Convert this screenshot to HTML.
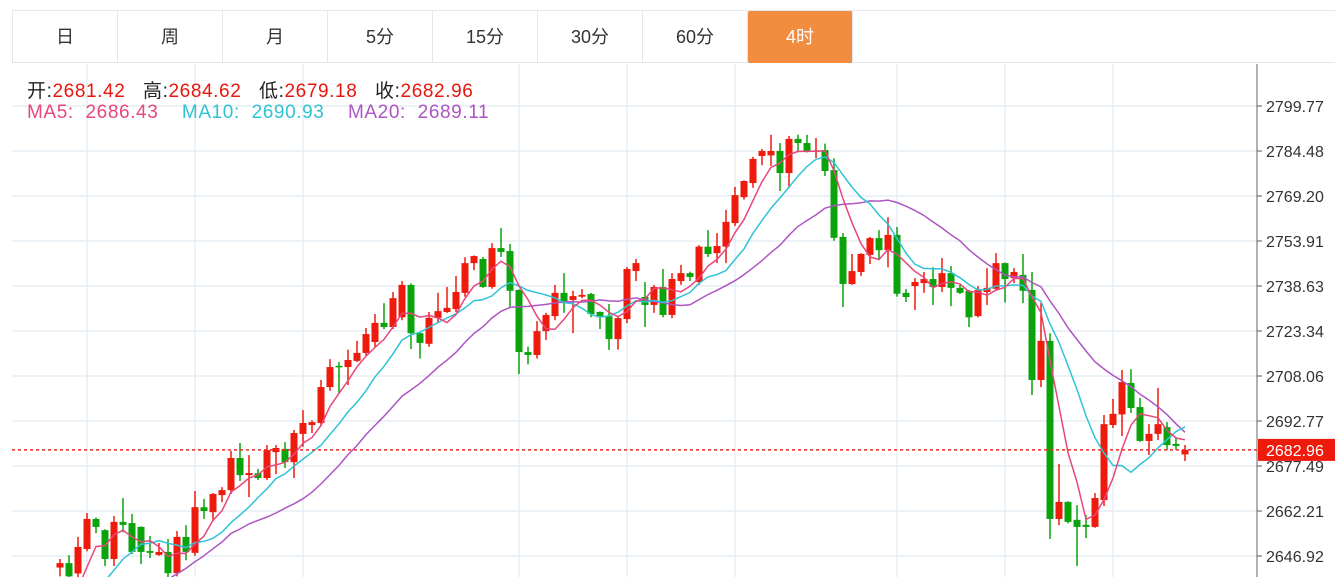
<!DOCTYPE html>
<html><head><meta charset="utf-8"><style>
html,body{margin:0;padding:0;width:1335px;height:577px;overflow:hidden;background:#fff;font-family:"Liberation Sans","Noto Sans CJK SC",sans-serif;}
#wrap{position:relative;width:1335px;height:577px;overflow:hidden;}
.tabs{position:absolute;left:12px;top:10px;height:53px;width:1323px;border-top:1px solid #e3e6ea;border-bottom:1px solid #e3e6ea;border-left:1px solid #e3e6ea;box-sizing:border-box;}
.tab{position:absolute;top:0;height:52px;width:105px;border-right:1px solid #e3e6ea;box-sizing:border-box;text-align:center;line-height:52px;font-size:18px;color:#333;}
.tab.active{background:#f28c3e;color:#fff;border-radius:2px;}
.leg{position:absolute;left:27px;font-size:19px;letter-spacing:0.6px;white-space:nowrap;}
</style></head><body>
<div id="wrap">
<svg id="chart" width="1335" height="577" style="position:absolute;left:0;top:0;display:block"></svg>
<div class="tabs">
<div class="tab" style="left:0">日</div>
<div class="tab" style="left:105px">周</div>
<div class="tab" style="left:210px">月</div>
<div class="tab" style="left:315px">5分</div>
<div class="tab" style="left:420px">15分</div>
<div class="tab" style="left:525px">30分</div>
<div class="tab" style="left:630px">60分</div>
<div class="tab active" style="left:735px">4时</div>
</div>
<div class="leg" style="top:76px;color:#222">开:<span style="color:#e8160c">2681.42</span>&nbsp;&nbsp; 高:<span style="color:#e8160c">2684.62</span>&nbsp;&nbsp; 低:<span style="color:#e8160c">2679.18</span>&nbsp;&nbsp; 收:<span style="color:#e8160c">2682.96</span></div>
<div class="leg" style="top:102px"><span style="color:#e8467c">MA5:&nbsp; 2686.43</span>&nbsp;&nbsp;&nbsp; <span style="color:#2ec3d6">MA10:&nbsp; 2690.93</span>&nbsp;&nbsp;&nbsp; <span style="color:#ae55c4">MA20:&nbsp; 2689.11</span></div>
</div>
<script>
const opens=[2643,2644.5,2641,2649.3,2659.5,2655.7,2645.9,2658.5,2658.1,2656.8,2648.6,2647.3,2648.3,2641.1,2653.4,2648,2663.5,2661.8,2667.6,2669.3,2680.2,2674.4,2675,2673.4,2682.2,2683.3,2678.8,2688.4,2691.4,2692.1,2704.3,2711.5,2711.1,2713.2,2715.9,2719.6,2726.1,2724.7,2728,2739,2722.6,2719,2727.8,2729.8,2730.8,2736.3,2746.4,2747.8,2738.3,2751.5,2750.5,2737.3,2716.2,2715.2,2723.3,2728.4,2736.3,2733.9,2735,2735.9,2729.8,2728.4,2720.6,2727.4,2743.7,2734.9,2732.2,2738.3,2728.8,2740.3,2743,2740,2752,2749.8,2752,2760,2768.8,2773.6,2782.8,2783,2784.5,2777,2788.6,2787.2,2784.3,2784.8,2778,2755.3,2739.3,2743.4,2749.2,2754.9,2750.8,2756,2736.3,2738.6,2739.6,2741,2738.3,2743,2738,2737,2728.4,2736.6,2737.7,2746.4,2741.3,2742.4,2737.3,2706.7,2720,2659.5,2665.3,2659.2,2657.5,2656.8,2665.9,2691.4,2695,2705.7,2697.5,2686,2688.4,2690.7,2685,2681.42];
const highs=[2645.9,2647.2,2653.4,2661.5,2660,2656,2660.5,2666.6,2661.2,2657,2653.7,2651.3,2652.7,2655.4,2657.4,2669,2666.3,2668.3,2670.3,2682.6,2685.3,2681.2,2676.5,2684.6,2684.6,2685.6,2689.7,2696.5,2693,2706.7,2713.8,2712.8,2717,2720,2724.4,2729.1,2732.8,2736.6,2740.3,2739.5,2723,2729.8,2736.3,2738.3,2742,2748.4,2749,2748.5,2753.2,2758.3,2752.9,2737.5,2718,2726.7,2729.5,2739,2743,2737,2737.6,2736.3,2730,2732.5,2728.5,2745.1,2747.8,2740,2739,2744.4,2743,2745.8,2743.5,2752.5,2757.6,2756.6,2764.5,2772.3,2774.5,2782.5,2785.2,2790,2787.2,2789.6,2790,2790,2788.9,2787,2782,2756.6,2749.5,2749.8,2755.3,2757.6,2762,2758.7,2737.6,2741.3,2743.4,2745,2748.1,2745.4,2739,2737.3,2738.6,2744.7,2749.8,2746.6,2744.7,2749.5,2743.4,2732.9,2722.6,2678.2,2665.5,2664.2,2660.8,2668.3,2694.8,2700.3,2710.1,2710.4,2700.6,2691.7,2704,2692.4,2687,2684.62];
const lows=[2640,2638,2639.5,2648.5,2654.7,2643.5,2643.5,2655,2647.6,2644.2,2646.2,2647,2639.8,2640,2645.5,2647,2659.5,2658.8,2665.2,2668,2672.4,2666.9,2672.7,2672.7,2674.7,2676.8,2673.4,2684,2688.7,2691,2703,2702,2705,2712.8,2715,2718,2724,2724,2727,2717.2,2714,2718,2726,2729.5,2729.8,2735,2744,2738,2737.7,2748.5,2731.5,2708.7,2712,2714,2720.3,2727,2729.5,2722.6,2734.5,2728,2724,2716.9,2717,2726,2740.3,2724.7,2729.5,2728,2727.7,2739,2740.3,2739,2748.5,2746.4,2746.4,2759,2768,2772,2779.7,2779.4,2770.9,2771.9,2784,2784,2782.1,2776,2754,2731.5,2739,2742,2746.1,2747.5,2745,2735,2733.2,2730.5,2736.3,2732.2,2736.6,2731.8,2735.9,2724.7,2728,2732.2,2737,2733,2739.6,2732.8,2701.6,2704.3,2652.7,2657.4,2658,2643.5,2653,2656.5,2663.9,2690.4,2687.7,2695.5,2685.7,2681.2,2686.3,2682.9,2682.9,2679.18];
const closes=[2644.5,2640,2650,2659.5,2656.8,2645.9,2658.5,2657.5,2648.3,2648.3,2648,2648.3,2641.1,2653.4,2648.3,2663.5,2662.2,2668,2669.3,2680.2,2674.4,2675.1,2673.4,2682.9,2683.6,2678.8,2688.7,2692.1,2692.4,2704.3,2711.1,2711.1,2713.5,2715.9,2722.3,2726.1,2724.7,2734.5,2739,2722.6,2719.3,2727.8,2730.1,2731.2,2736.6,2746.4,2748.8,2738.3,2751.5,2750.2,2737,2716.2,2715.2,2723.3,2728.8,2736.3,2732.8,2735.2,2735.6,2729.1,2728,2720.6,2727.7,2744.4,2746.4,2732.2,2738.3,2728.8,2741,2743,2741.7,2752,2749.5,2752.2,2760.4,2769.5,2774.3,2781.8,2784.5,2784.5,2777,2788.6,2787.2,2784.5,2784.7,2777.7,2755,2739.3,2743.7,2749.5,2754.9,2750.8,2756,2736,2734.9,2740,2741,2738.3,2743,2738,2736.3,2728,2737.3,2738,2746.4,2741,2743.4,2737,2706.7,2720,2659.5,2665.3,2658.5,2656.8,2656.8,2666.6,2691.7,2695.2,2706,2697.2,2686,2688.4,2691.7,2684.6,2684.3,2682.96];
const priorCloses=[2600,2605,2598,2610,2615,2612,2620,2618,2625,2630,2628,2624,2615,2612,2618,2622,2620,2624,2622];
const yTicks=["2799.77","2784.48","2769.20","2753.91","2738.63","2723.34","2708.06","2692.77","2677.49","2662.21","2646.92"];
const lastPrice=2682.96;

const svg=document.getElementById('chart');
const NS='http://www.w3.org/2000/svg';
const top0=106,pxPer=45/15.285,pMax=2799.77;
function y(p){return top0+(pMax-p)*pxPer;}
function x(i){return 60+9*i;}
function mk(t,a){const e=document.createElementNS(NS,t);for(const k in a)e.setAttribute(k,a[k]);return e;}

const defs=mk('defs',{});
const cp=mk('clipPath',{id:'plot'});cp.appendChild(mk('rect',{x:12,y:64,width:1245,height:513}));
defs.appendChild(cp);svg.appendChild(defs);

const grid=mk('g',{});


svg.appendChild(grid);
[87,195,303,519,627,735,897,1005,1113].forEach(gx=>{
  const l=mk('line',{x1:gx,x2:gx,y1:64,y2:577,stroke:'#e6edf3','stroke-width':1.5});
  
  
  grid.appendChild(l);
});
yTicks.forEach(t=>{
  const yy=y(parseFloat(t));
  const l=mk('line',{x1:12,x2:1257,y1:yy,y2:yy,stroke:'#e6edf3','stroke-width':1.5});
  
  
  grid.appendChild(l);
  const tk=mk('line',{x1:1257,x2:1262,y1:yy,y2:yy,stroke:'#555','stroke-width':1});
  
  
  svg.appendChild(tk);
  const tx=mk('text',{x:1266,y:yy+6,'font-size':16,fill:'#333','font-family':'Liberation Sans, sans-serif'});
  tx.textContent=t;
  
  
  svg.appendChild(tx);
});
const ax=mk('line',{x1:1257,x2:1257,y1:64,y2:577,stroke:'#666','stroke-width':1});


svg.appendChild(ax);

const plot=mk('g',{'clip-path':'url(#plot)'});


svg.appendChild(plot);

for(let i=0;i<closes.length;i++){
  const up=closes[i]>=opens[i];
  const col=up?'#ee1a0c':'#0ba30b';
  const g=mk('g',{});
  
  
  g.appendChild(mk('line',{x1:x(i),x2:x(i),y1:y(highs[i]),y2:y(lows[i]),stroke:col,'stroke-width':1.5}));
  const t=y(Math.max(opens[i],closes[i])),b=y(Math.min(opens[i],closes[i]));
  g.appendChild(mk('rect',{x:x(i)-3.5,y:t,width:7,height:Math.max(b-t,1.5),fill:col}));
  plot.appendChild(g);
}
const all=priorCloses.concat(closes);
function ma(n,name,col){
  let d='';
  for(let i=0;i<closes.length;i++){
    const k=i+priorCloses.length;let s=0,c=0;
    for(let j=Math.max(0,k-n+1);j<=k;j++){s+=all[j];c++;}
    d+=(i?'L':'M')+x(i)+','+y(s/c).toFixed(1);
  }
  const p=mk('path',{d:d,fill:'none',stroke:col,'stroke-width':1.5});
  
  
  plot.appendChild(p);
}
ma(20,'ma20-line','#ae55c4');
ma(10,'ma10-line','#2ec3d6');
ma(5,'ma5-line','#e8467c');

const py=y(lastPrice);
const dl=mk('line',{x1:12,x2:1257,y1:py,y2:py,stroke:'#ee2a2a','stroke-width':1.5,'stroke-dasharray':'3,3'});


svg.appendChild(dl);
const tag=mk('rect',{x:1258,y:py-11,width:77,height:22,fill:'#ee1a0c'});


svg.appendChild(tag);
const tt=mk('text',{x:1266,y:py+6,'font-size':16,fill:'#fff','font-family':'Liberation Sans, sans-serif'});
tt.textContent=lastPrice.toFixed(2);


svg.appendChild(tt);
</script>
</body></html>
